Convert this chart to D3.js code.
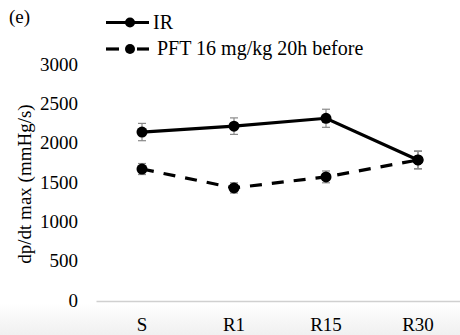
<!DOCTYPE html>
<html>
<head>
<meta charset="utf-8">
<script src="https://cdn.jsdelivr.net/npm/d3@7"></script>
<style>
  body { margin: 0; background: #fff; }
  svg { display: block; }
  svg text { font-family: "Liberation Serif", "Times New Roman", serif; fill: #000; }
</style>
</head>
<body>
<svg width="460" height="335"></svg>
<script>
// данные графика
const categories = ["S", "R1", "R15", "R30"];
const irValues = [2135, 2210, 2310, 1780];
const irErrors = [110, 105, 115, 115];
const pftValues = [1665, 1425, 1565, 1780];
const pftErrors = [70, 65, 75, 110];
const yTicks = [0, 500, 1000, 1500, 2000, 2500, 3000];
const seriesNames = ["IR", "PFT 16 mg/kg 20h before"];

const svg = d3.select("svg");

const attr_area = {
  left: 96,
  right: 464,
  top: 64,
  bottom: 300
};

// светло-серый фон под осью
const defs = svg.append("defs");
const grad = defs.append("linearGradient")
  .attr("id", "bottomGrad")
  .attr("x1", 0).attr("y1", 0).attr("x2", 0).attr("y2", 1);
grad.append("stop").attr("offset", "0%").attr("stop-color", "#ffffff");
grad.append("stop").attr("offset", "100%").attr("stop-color", "#f0f0f0");
svg.append("rect")
  .attr("x", 0).attr("y", 303)
  .attr("width", 460).attr("height", 32)
  .attr("fill", "url(#bottomGrad)");

const scX = d3.scaleBand()
  .domain(categories)
  .range([attr_area.left, attr_area.right]);

const scY = d3.scaleLinear()
  .domain([0, 3000])
  .range([attr_area.bottom, attr_area.top]);

// ось Y (только подписи)
const axisY = d3.axisLeft(scY)
  .tickValues(yTicks)
  .tickFormat(d3.format("d"))
  .tickSize(0)
  .tickPadding(0);
const gY = svg.append("g")
  .attr("transform", `translate(78, 0)`)
  .call(axisY);
gY.select(".domain").remove();
gY.selectAll("text")
  .style("font-size", "19px");

// ось X
const axisX = d3.axisBottom(scX).tickSize(0).tickPadding(17);
const gX = svg.append("g")
  .attr("transform", `translate(0, ${attr_area.bottom + 1})`)
  .call(axisX);
gX.select(".domain")
  .attr("stroke", "#d0d0d0")
  .attr("stroke-width", 1.5);
gX.selectAll("text")
  .style("font-size", "19px");

// подпись оси Y
svg.append("text")
  .attr("transform", `translate(31, 184) rotate(-90)`)
  .attr("text-anchor", "middle")
  .style("font-size", "19px")
  .text("dp/dt max (mmHg/s)");

// метка панели
svg.append("text")
  .attr("x", 9).attr("y", 23)
  .style("font-size", "19px")
  .text("(e)");

const cx = d => scX(d) + scX.bandwidth() / 2;

function createChart(values, errors, dash) {
  const data = categories.map((c, i) => ({ c: c, v: values[i], e: errors[i] }));

  // планки погрешностей
  const eb = svg.append("g").attr("stroke", "#8a8a8a").attr("stroke-width", 1.2);
  data.forEach(d => {
    const x = cx(d.c);
    eb.append("line").attr("x1", x).attr("x2", x)
      .attr("y1", scY(d.v - d.e)).attr("y2", scY(d.v + d.e));
    eb.append("line").attr("x1", x - 4).attr("x2", x + 4)
      .attr("y1", scY(d.v - d.e)).attr("y2", scY(d.v - d.e));
    eb.append("line").attr("x1", x - 4).attr("x2", x + 4)
      .attr("y1", scY(d.v + d.e)).attr("y2", scY(d.v + d.e));
  });

  const line = d3.line().x(d => cx(d.c)).y(d => scY(d.v));
  svg.append("path")
    .datum(data)
    .attr("d", line)
    .attr("fill", "none")
    .attr("stroke", "#000")
    .attr("stroke-width", 3.2)
    .attr("stroke-dasharray", dash ? "12,10" : null);

  svg.selectAll(null)
    .data(data)
    .enter()
    .append("circle")
    .attr("cx", d => cx(d.c))
    .attr("cy", d => scY(d.v))
    .attr("r", 5.5)
    .attr("fill", "#000");
}

createChart(irValues, irErrors, false);
createChart(pftValues, pftErrors, true);

// легенда
const legend = [
  { name: seriesNames[0], dash: false, y: 22.5, tx: 153 },
  { name: seriesNames[1], dash: true, y: 49, tx: 157 }
];
legend.forEach(l => {
  if (l.dash) {
    svg.append("line").attr("x1", 106).attr("x2", 119).attr("y1", l.y).attr("y2", l.y)
      .attr("stroke", "#000").attr("stroke-width", 3.2);
    svg.append("line").attr("x1", 137).attr("x2", 149).attr("y1", l.y).attr("y2", l.y)
      .attr("stroke", "#000").attr("stroke-width", 3.2);
  } else {
    svg.append("line").attr("x1", 106).attr("x2", 149).attr("y1", l.y).attr("y2", l.y)
      .attr("stroke", "#000").attr("stroke-width", 3.2);
  }
  svg.append("circle").attr("cx", 130).attr("cy", l.y).attr("r", 5).attr("fill", "#000");
  svg.append("text")
    .attr("x", l.tx).attr("y", l.y + 6)
    .style("font-size", "20px")
    .text(l.name);
});
</script>
</body>
</html>
